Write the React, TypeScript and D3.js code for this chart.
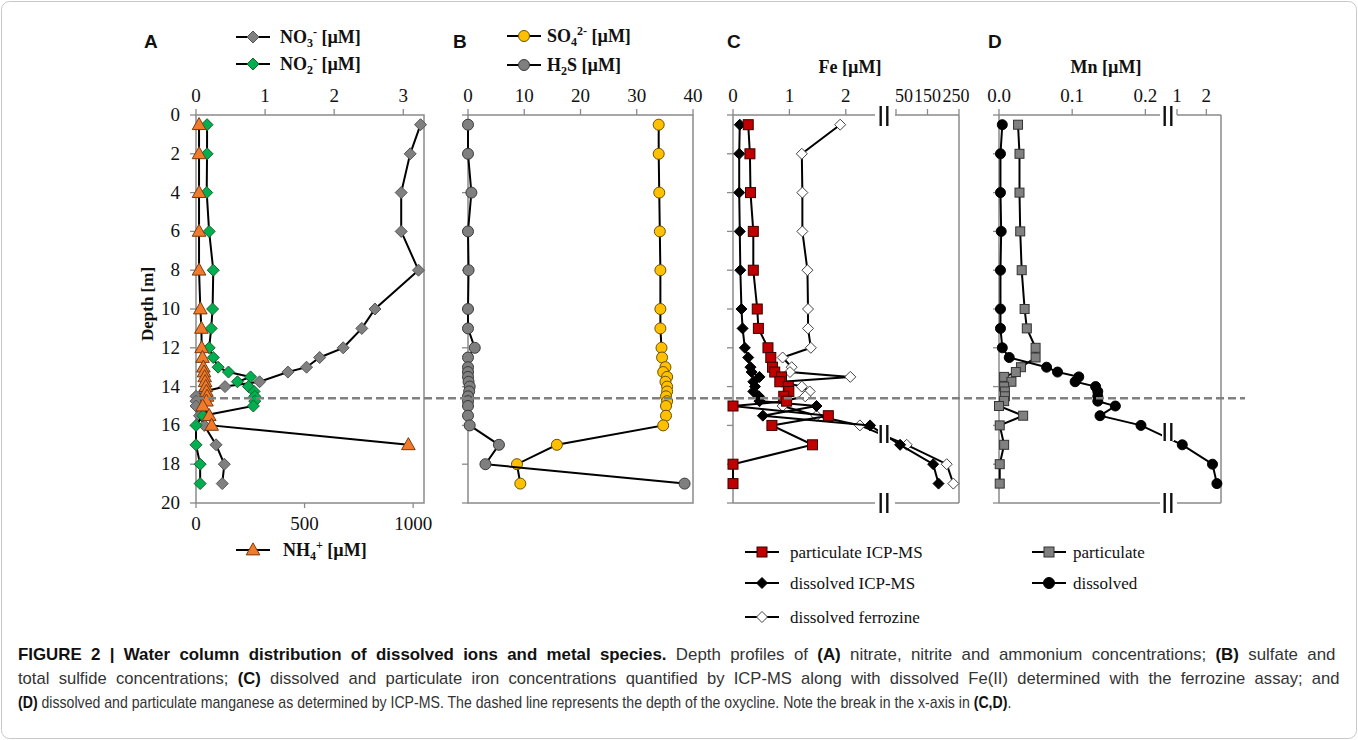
import React, { useLayoutEffect, useRef, useState } from "react";
import * as d3 from "d3";

// sampling depths (m)
const depths = [0.5, 2, 4, 6, 8, 10, 11, 12, 12.5, 13, 13.25, 13.5, 13.75, 14, 14.25, 14.5, 14.75, 15, 15.5, 16, 17, 18, 19];

// panel A (µM)
const no3 = [3.25, 3.1, 2.97, 2.97, 3.22, 2.59, 2.4, 2.13, 1.79, 1.6, 1.33, null, 0.92, 0.42, 0.12, 0.0, 0.0, 0.0, 0.05, 0.12, 0.29, 0.41, 0.38];
const no2 = [0.16, 0.16, 0.155, 0.19, 0.25, 0.24, 0.22, 0.19, 0.25, 0.32, 0.47, 0.79, 0.6, 0.76, 0.84, 0.85, 0.85, 0.83, 0.1, 0.0, 0.0, 0.06, 0.06];
const nh4 = [14, 14, 14, 14, 14, 20, 25, 26, 30, 34, 37, 40, 42, 45, 48, 51, 48, 31, 61, 72, 978, null, null];

// panel B (µM)
const so4 = [33.9, 33.9, 34.0, 34.1, 34.2, 34.2, 34.2, 34.4, 34.5, 35.1, 34.7, 35.4, 35.1, 35.4, 35.4, 35.2, 35.4, 35.2, 35.2, 34.7, 15.8, 8.7, 9.3];
const h2s = [0, 0, 0.6, 0, 0.1, 0, 0, 1.2, 0, 0, 0, 0, 0.1, 0.3, 0.2, 0, 0, 0, 0, 0.3, 5.5, 3.1, 38.5];

// panel C, Fe (µM)
const feParticulate = [0.27, 0.3, 0.31, 0.36, 0.36, 0.43, 0.45, 0.62, 0.67, 0.7, 0.74, 0.86, 0.83, 0.98, 0.99, 0.9, 0.95, 0, 1.69, 0.69, 1.41, 0, 0];
const feDissolved = [0.12, 0.11, 0.11, 0.12, 0.13, 0.15, 0.17, 0.21, 0.27, 0.31, 0.33, 0.47, 0.36, 0.39, 0.36, 0.46, 0.47, 1.48, 0.53, 2.43, 63, 168, 185];
const feFerrozine = [1.9, 1.22, 1.23, 1.23, 1.32, 1.33, 1.33, 1.38, 0.88, 1.04, 1.01, 2.08, 0.86, 1.22, 1.36, 1.28, 0.89, 0.88, 1.48, 2.25, 84, 211, 232];

// panel D, Mn (µM)
const mnParticulate = [0.026, 0.028, 0.028, 0.029, 0.031, 0.035, 0.038, 0.05, 0.05, 0.03, 0.023, 0.007, 0.017, 0.007, 0.008, 0.008, 0.007, 0.0, 0.033, 0.001, 0.007, 0.001, 0.001];
const mnDissolved = [0.0045, 0.002, 0.002, 0.003, 0.002, 0.002, 0.002, 0.0045, 0.014, 0.065, 0.08, 0.109, 0.104, 0.132, 0.135, 0.135, 0.135, 0.159, 0.138, 0.194, 1.18, 2.21, 2.36];

const depthTicks = [0, 2, 4, 6, 8, 10, 12, 14, 16, 18, 20];
const oxycline = 14.6;

// caption lines: [text, bold]
const captionLines: [string, boolean][][] = [
  [
    ["FIGURE 2 | Water column distribution of dissolved ions and metal species.", true],
    [" Depth profiles of ", false],
    ["(A)", true],
    [" nitrate, nitrite and ammonium concentrations; ", false],
    ["(B)", true],
    [" sulfate and", false],
  ],
  [
    ["total sulfide concentrations; ", false],
    ["(C)", true],
    [" dissolved and particulate iron concentrations quantified by ICP-MS along with dissolved Fe(II) determined with the ferrozine assay; and", false],
  ],
  [
    ["(D)", true],
    [" dissolved and particulate manganese as determined by ICP-MS. The dashed line represents the depth of the oxycline. Note the break in the x-axis in ", false],
    ["(C,D)", true],
    [".", false],
  ],
];
const captionY = [660, 684, 708];
const captionRight = [1336, 1340, 1012];

const SERIF = "'Liberation Serif', 'Times New Roman', serif";
const SANS = "'Liberation Sans', Arial, sans-serif";
const AXIS = "#8a8a8a";
const TICK_FS = 19;

const y = d3.scaleLinear().domain([0, 20]).range([115, 503]);
const TOP = y(0);
const BOT = y(20);

const xA = d3.scaleLinear().domain([0, 3.3]).range([196, 424]);
const xA2 = d3.scaleLinear().domain([0, 1050]).range([196, 424]);
const xB = d3.scaleLinear().domain([0, 40]).range([468, 693]);
const xCL = d3.scaleLinear().domain([0, 2.5]).range([733, 874]);
const xCR = d3.scaleLinear().domain([50, 250]).range([896, 959]);
const xC = (v: number) => (v > 10 ? xCR(v) : xCL(v));
const xDL = d3.scaleLinear().domain([0, 0.22]).range([999, 1160]);
const xDR = d3.scaleLinear().domain([1, 2.5]).range([1177, 1221]);
const xD = (v: number) => (v >= 1 ? xDR(v) : xDL(v));

type MarkerType = "diamond" | "triangle" | "square" | "circle";

function Marker({ type, cx, cy, r, fill, stroke }: { type: MarkerType; cx: number; cy: number; r: number; fill: string; stroke: string }) {
  if (type === "circle") return <circle cx={cx} cy={cy} r={r} fill={fill} stroke={stroke} strokeWidth={1} />;
  if (type === "square") return <rect x={cx - r} y={cy - r} width={2 * r} height={2 * r} fill={fill} stroke={stroke} strokeWidth={1} />;
  if (type === "triangle")
    return <path d={`M${cx},${cy - r * 1.1}L${cx + r * 1.05},${cy + r * 0.75}L${cx - r * 1.05},${cy + r * 0.75}Z`} fill={fill} stroke={stroke} strokeWidth={1} />;
  return <path d={`M${cx},${cy - r}L${cx + r},${cy}L${cx},${cy + r}L${cx - r},${cy}Z`} fill={fill} stroke={stroke} strokeWidth={1} />;
}

function Series({ values, x, type, r, fill, stroke }: { values: (number | null)[]; x: (v: number) => number; type: MarkerType; r: number; fill: string; stroke: string }) {
  const pts = depths.map((d, i) => ({ d, v: values[i] })).filter((p) => p.v != null) as { d: number; v: number }[];
  const line = d3.line<{ d: number; v: number }>().x((p) => x(p.v)).y((p) => y(p.d));
  return (
    <g>
      <path d={line(pts) || ""} fill="none" stroke="#000" strokeWidth={2} />
      {pts.map((p, i) => (
        <Marker key={i} type={type} cx={x(p.v)} cy={y(p.d)} r={r} fill={fill} stroke={stroke} />
      ))}
    </g>
  );
}

function LegendItem({ x, cy, type, r, fill, stroke, children, bold = true, tx = 44 }: any) {
  return (
    <g>
      <line x1={x} x2={x + 34} y1={cy} y2={cy} stroke="#000" strokeWidth={2} />
      <Marker type={type} cx={x + 17} cy={cy} r={r} fill={fill} stroke={stroke} />
      <text x={x + tx} y={cy + 6} fontFamily={SERIF} fontSize={bold ? 18 : 17} fontWeight={bold ? "bold" : "normal"} fill="#111">
        {children}
      </text>
    </g>
  );
}

function LeftTicks({ x0 }: { x0: number }) {
  return (
    <g>
      {depthTicks.map((t) => (
        <line key={t} x1={x0 - 6} x2={x0} y1={y(t)} y2={y(t)} stroke={AXIS} strokeWidth={1.3} />
      ))}
    </g>
  );
}

function TopTicks({ scale, ticks, labels, dx = [], fs = TICK_FS }: { scale: (v: number) => number; ticks: number[]; labels: string[]; dx?: number[]; fs?: number }) {
  return (
    <g>
      {ticks.map((t, i) => (
        <g key={i}>
          <line x1={scale(t)} x2={scale(t)} y1={TOP - 6} y2={TOP} stroke={AXIS} strokeWidth={1.3} />
          <text x={scale(t) + (dx[i] || 0)} y={102} textAnchor="middle" fontFamily={SERIF} fontSize={fs} fill="#111">
            {labels[i]}
          </text>
        </g>
      ))}
    </g>
  );
}

function BreakMark({ x, cy, h }: { x: number; cy: number; h: number }) {
  return (
    <g>
      <rect x={x - 6} y={cy - h / 2} width={12} height={h} fill="#fff" />
      <line x1={x - 3.3} x2={x - 3.3} y1={cy - h / 2} y2={cy + h / 2} stroke="#111" strokeWidth={2.4} />
      <line x1={x + 3.3} x2={x + 3.3} y1={cy - h / 2} y2={cy + h / 2} stroke="#111" strokeWidth={2.4} />
    </g>
  );
}

// caption: last line sets the condensed width, the two full lines are stretched
// partly by glyph width and partly by word spacing
function Caption() {
  const refs = [useRef<SVGTextElement>(null), useRef<SVGTextElement>(null), useRef<SVGTextElement>(null)];
  const [fit, setFit] = useState({ sx: [1, 1, 1], ws: [0, 0, 0] });

  useLayoutEffect(() => {
    const lens = refs.map((r) => (r.current ? r.current.getComputedTextLength() : 0));
    if (!lens[2]) return;
    const s3 = (captionRight[2] - 18) / lens[2];
    const sx = [s3, s3, s3];
    const ws = [0, 0, 0];
    [0, 1].forEach((i) => {
      const target = captionRight[i] - 18;
      const base = s3 * lens[i];
      const extra = target - base;
      const s = (s3 * (base + 0.65 * extra)) / base;
      const spaces = captionLines[i].map((seg) => seg[0]).join("").split(" ").length - 1;
      sx[i] = s;
      ws[i] = Math.max(0, (target / s - lens[i]) / spaces);
    });
    setFit({ sx, ws });
  }, []);

  return (
    <g fontFamily={SANS} fontSize={16} fill="#333">
      {captionLines.map((segs, i) => (
        <g key={i} transform={`scale(${fit.sx[i]},1)`}>
          <text ref={refs[i]} x={18 / fit.sx[i]} y={captionY[i]} style={{ wordSpacing: `${fit.ws[i]}px`, whiteSpace: "pre" }}>
            {segs.map(([t, b], j) => (
              <tspan key={j} fontWeight={b ? "bold" : "normal"} fill={b ? "#111" : "#333"}>
                {t}
              </tspan>
            ))}
          </text>
        </g>
      ))}
    </g>
  );
}

export default function App() {
  const [a0, a1] = xA.range();
  const [b0, b1] = xB.range();
  const c0 = xCL.range()[0];
  const c1 = xCR.range()[1];
  const d0 = xDL.range()[0];
  const d1 = xDR.range()[1];

  return (
    <svg width={1358} height={740} style={{ position: "absolute", left: 0, top: 0, background: "#fff" }}>
      <rect x={1.5} y={1.5} width={1355} height={737} rx={8} fill="#fff" stroke="#c8c8c8" strokeWidth={1} />

      {/* panel letters */}
      {[
        ["A", 144],
        ["B", 453],
        ["C", 727],
        ["D", 988],
      ].map(([l, x]) => (
        <text key={l as string} x={x as number} y={48} fontFamily={SANS} fontWeight="bold" fontSize={19} fill="#111">
          {l}
        </text>
      ))}

      {/* ---------- Panel A ---------- */}
      <rect x={a0} y={TOP} width={a1 - a0} height={BOT - TOP} fill="none" stroke={AXIS} strokeWidth={1.5} />
      <LeftTicks x0={a0} />
      {depthTicks.map((t) => (
        <text key={t} x={180} y={y(t) + 6} textAnchor="end" fontFamily={SERIF} fontSize={TICK_FS} fill="#111">
          {t}
        </text>
      ))}
      <text transform={`translate(153,${y(10) - 5}) rotate(-90)`} textAnchor="middle" fontFamily={SERIF} fontWeight="bold" fontSize={17} fill="#111">
        Depth [m]
      </text>
      <TopTicks scale={xA} ticks={[0, 1, 2, 3]} labels={["0", "1", "2", "3"]} />
      {[0, 500, 1000].map((t) => (
        <g key={t}>
          <line x1={xA2(t)} x2={xA2(t)} y1={BOT} y2={BOT + 5} stroke={AXIS} strokeWidth={1.3} />
          <text x={xA2(t)} y={530} textAnchor="middle" fontFamily={SERIF} fontSize={TICK_FS} fill="#111">
            {t}
          </text>
        </g>
      ))}
      <Series values={no3} x={xA} type="diamond" r={6} fill="#808080" stroke="#555" />
      <Series values={no2} x={xA} type="diamond" r={6} fill="#00b050" stroke="#1d5e2c" />
      <Series values={nh4} x={xA2} type="triangle" r={6.5} fill="#f07b2c" stroke="#7a3a10" />

      <LegendItem x={236} cy={37} type="diamond" r={6} fill="#808080" stroke="#555">
        NO<tspan fontSize={12} dy={4}>3</tspan>
        <tspan fontSize={12} dy={-11}>-</tspan>
        <tspan dy={7}> [µM]</tspan>
      </LegendItem>
      <LegendItem x={236} cy={64} type="diamond" r={6} fill="#00b050" stroke="#1d5e2c">
        NO<tspan fontSize={12} dy={4}>2</tspan>
        <tspan fontSize={12} dy={-11}>-</tspan>
        <tspan dy={7}> [µM]</tspan>
      </LegendItem>
      <LegendItem x={236} cy={550} type="triangle" r={6.5} fill="#f07b2c" stroke="#7a3a10" tx={47}>
        NH<tspan fontSize={12} dy={4}>4</tspan>
        <tspan fontSize={12} dy={-11}>+</tspan>
        <tspan dy={7}> [µM]</tspan>
      </LegendItem>

      {/* ---------- Panel B ---------- */}
      <rect x={b0} y={TOP} width={b1 - b0} height={BOT - TOP} fill="none" stroke={AXIS} strokeWidth={1.5} />
      <LeftTicks x0={b0} />
      <TopTicks scale={xB} ticks={[0, 10, 20, 30, 40]} labels={["0", "10", "20", "30", "40"]} />
      <Series values={so4} x={xB} type="circle" r={5.5} fill="#ffc000" stroke="#6b5200" />
      <Series values={h2s} x={xB} type="circle" r={5.5} fill="#7f7f7f" stroke="#3a3a3a" />
      <LegendItem x={507} cy={36} type="circle" r={5.5} fill="#ffc000" stroke="#6b5200" tx={40}>
        SO<tspan fontSize={12} dy={4}>4</tspan>
        <tspan fontSize={12} dy={-11}>2-</tspan>
        <tspan dy={7}> [µM]</tspan>
      </LegendItem>
      <LegendItem x={507} cy={65} type="circle" r={5.5} fill="#7f7f7f" stroke="#3a3a3a" tx={40}>
        H<tspan fontSize={12} dy={4}>2</tspan>
        <tspan dy={-4}>S [µM]</tspan>
      </LegendItem>

      {/* ---------- Panel C ---------- */}
      <line x1={c0} x2={c0} y1={TOP} y2={BOT} stroke={AXIS} strokeWidth={1.5} />
      <line x1={c1} x2={c1} y1={TOP} y2={BOT} stroke={AXIS} strokeWidth={1.5} />
      <line x1={c0} x2={875} y1={TOP} y2={TOP} stroke={AXIS} strokeWidth={1.5} />
      <line x1={895} x2={c1} y1={TOP} y2={TOP} stroke={AXIS} strokeWidth={1.5} />
      <line x1={c0} x2={875} y1={BOT} y2={BOT} stroke={AXIS} strokeWidth={1.5} />
      <line x1={895} x2={c1} y1={BOT} y2={BOT} stroke={AXIS} strokeWidth={1.5} />
      <LeftTicks x0={c0} />
      <TopTicks scale={xCL} ticks={[0, 1, 2]} labels={["0", "1", "2"]} />
      <TopTicks scale={xCR} ticks={[50, 150, 250]} labels={["50", "150", "250"]} dx={[8, 0, -3]} fs={18} />
      <text x={850} y={73} textAnchor="middle" fontFamily={SERIF} fontWeight="bold" fontSize={18} fill="#111">
        Fe [µM]
      </text>
      <Series values={feFerrozine} x={xC} type="diamond" r={5.5} fill="#fff" stroke="#444" />
      <Series values={feDissolved} x={xC} type="diamond" r={5.5} fill="#000" stroke="#000" />
      <Series values={feParticulate} x={xC} type="square" r={5} fill="#c00000" stroke="#3a0000" />
      <BreakMark x={884} cy={TOP + 1} h={20} />
      <BreakMark x={884} cy={BOT} h={20} />
      <BreakMark x={884} cy={434} h={18} />

      {/* ---------- Panel D ---------- */}
      <line x1={d0} x2={d0} y1={TOP} y2={BOT} stroke={AXIS} strokeWidth={1.5} />
      <line x1={d1} x2={d1} y1={TOP} y2={BOT} stroke={AXIS} strokeWidth={1.5} />
      <line x1={d0} x2={1160} y1={TOP} y2={TOP} stroke={AXIS} strokeWidth={1.5} />
      <line x1={1177} x2={d1} y1={TOP} y2={TOP} stroke={AXIS} strokeWidth={1.5} />
      <line x1={d0} x2={1160} y1={BOT} y2={BOT} stroke={AXIS} strokeWidth={1.5} />
      <line x1={1177} x2={d1} y1={BOT} y2={BOT} stroke={AXIS} strokeWidth={1.5} />
      <LeftTicks x0={d0} />
      <TopTicks scale={xDL} ticks={[0, 0.1, 0.2]} labels={["0.0", "0.1", "0.2"]} />
      <TopTicks scale={xDR} ticks={[1, 2]} labels={["1", "2"]} />
      <text x={1106} y={73} textAnchor="middle" fontFamily={SERIF} fontWeight="bold" fontSize={18} fill="#111">
        Mn [µM]
      </text>
      <Series values={mnParticulate} x={xD} type="square" r={4.5} fill="#808080" stroke="#333" />
      <Series values={mnDissolved} x={xD} type="circle" r={5} fill="#000" stroke="#000" />
      <BreakMark x={1168} cy={TOP + 1} h={20} />
      <BreakMark x={1168} cy={BOT} h={20} />
      <BreakMark x={1168} cy={432} h={18} />

      {/* oxycline */}
      <line x1={196} x2={1245} y1={y(oxycline)} y2={y(oxycline)} stroke="#808080" strokeWidth={2.5} strokeDasharray="8 4" />

      {/* bottom legends */}
      <LegendItem x={745} cy={552} type="square" r={5} fill="#c00000" stroke="#3a0000" bold={false} tx={45}>
        particulate  ICP-MS
      </LegendItem>
      <LegendItem x={745} cy={583} type="diamond" r={5.5} fill="#000" stroke="#000" bold={false} tx={45}>
        dissolved ICP-MS
      </LegendItem>
      <LegendItem x={745} cy={617} type="diamond" r={5.5} fill="#fff" stroke="#444" bold={false} tx={45}>
        dissolved  ferrozine
      </LegendItem>
      <LegendItem x={1032} cy={552} type="square" r={5} fill="#808080" stroke="#333" bold={false} tx={41}>
        particulate
      </LegendItem>
      <LegendItem x={1032} cy={583} type="circle" r={5.5} fill="#000" stroke="#000" bold={false} tx={41}>
        dissolved
      </LegendItem>

      <Caption />
    </svg>
  );
}
